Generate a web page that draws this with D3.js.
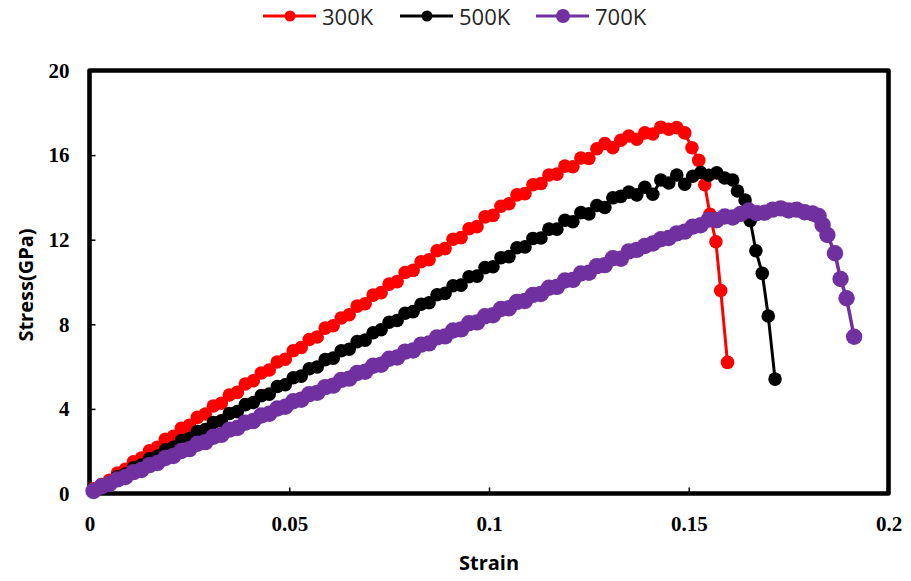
<!DOCTYPE html>
<html>
<head>
<meta charset="utf-8">
<script src="https://cdn.jsdelivr.net/npm/d3@7"></script>
<style>
  body { margin: 0; background: #ffffff; }
  svg { display: block; }
</style>
</head>
<body>
<svg id="chart" width="911" height="581"></svg>
<script>
// Strain sampling shared by the three runs (loading part of each curve)
const strainGrid = [
  0.001, 0.003, 0.005, 0.007, 0.009, 0.011, 0.013, 0.015, 0.017, 0.019,
  0.021, 0.023, 0.025, 0.027, 0.029, 0.031, 0.033, 0.035, 0.037, 0.039,
  0.041, 0.043, 0.045, 0.047, 0.049, 0.051, 0.053, 0.055, 0.057, 0.059,
  0.061, 0.063, 0.065, 0.067, 0.069, 0.071, 0.073, 0.075, 0.077, 0.079,
  0.081, 0.083, 0.085, 0.087, 0.089, 0.091, 0.093, 0.095, 0.097, 0.099,
  0.101, 0.103, 0.105, 0.107, 0.109, 0.111, 0.113, 0.115, 0.117, 0.119,
  0.121, 0.123, 0.125, 0.127, 0.129, 0.131, 0.133, 0.135, 0.137, 0.139,
  0.141, 0.143, 0.145, 0.147, 0.149, 0.151, 0.153, 0.155, 0.157, 0.159,
  0.161, 0.163, 0.165, 0.167, 0.169, 0.171, 0.173, 0.175, 0.177, 0.179,
  0.181
];

// 300K
const stress300 = [
  0.22, 0.42, 0.63, 0.97, 1.15, 1.50, 1.68, 2.02, 2.19, 2.56,
  2.70, 3.08, 3.22, 3.60, 3.76, 4.14, 4.27, 4.66, 4.78, 5.18,
  5.33, 5.70, 5.84, 6.22, 6.35, 6.75, 6.90, 7.28, 7.40, 7.82,
  7.93, 8.30, 8.45, 8.86, 8.97, 9.38, 9.50, 9.90, 10.02, 10.45,
  10.55, 10.96, 11.05, 11.48, 11.58, 12.02, 12.10, 12.52, 12.62, 13.08,
  13.15, 13.58, 13.70, 14.12, 14.18, 14.60, 14.66, 15.06, 15.10, 15.48,
  15.45, 15.86, 15.84, 16.30, 16.55, 16.35, 16.70, 16.90, 16.75, 17.05,
  17.00, 17.32, 17.22, 17.30, 17.05
];
const failStrain300 = [0.1508, 0.1525, 0.154, 0.1553, 0.1568, 0.158, 0.1597];
const failStress300 = [16.35, 15.75, 14.6, 13.2, 11.9, 9.6, 6.2];

// 500K
const stress500 = [
  0.15, 0.35, 0.50, 0.79, 0.92, 1.22, 1.35, 1.64, 1.76, 2.07,
  2.18, 2.50, 2.60, 2.93, 3.02, 3.35, 3.44, 3.78, 3.87, 4.20,
  4.30, 4.63, 4.70, 5.06, 5.14, 5.47, 5.55, 5.90, 5.98, 6.33,
  6.40, 6.75, 6.82, 7.18, 7.25, 7.60, 7.74, 8.10, 8.18, 8.52,
  8.60, 8.95, 9.02, 9.40, 9.46, 9.82, 9.85, 10.25, 10.28, 10.68,
  10.72, 11.15, 11.20, 11.62, 11.66, 12.06, 12.08, 12.50, 12.50, 12.92,
  12.85, 13.28, 13.22, 13.62, 13.52, 13.98, 14.05, 14.25, 14.12, 14.48,
  14.15, 14.82, 14.68, 15.06, 14.62, 15.00, 15.18, 15.05, 15.16, 14.92,
  14.82
];
const failStrain500 = [0.1622, 0.1641, 0.1654, 0.1668, 0.1684, 0.1699, 0.1716];
const failStress500 = [14.3, 13.88, 12.9, 11.48, 10.41, 8.39, 5.41];

// 700K
const stress700 = [
  0.12, 0.33, 0.45, 0.67, 0.78, 1.01, 1.11, 1.34, 1.44, 1.68,
  1.77, 2.01, 2.10, 2.35, 2.43, 2.68, 2.77, 3.02, 3.10, 3.35,
  3.43, 3.69, 3.77, 4.02, 4.10, 4.36, 4.43, 4.70, 4.76, 5.03,
  5.10, 5.37, 5.43, 5.70, 5.76, 6.04, 6.09, 6.37, 6.43, 6.71,
  6.76, 7.04, 7.10, 7.38, 7.43, 7.71, 7.76, 8.05, 8.09, 8.38,
  8.43, 8.72, 8.76, 9.06, 9.10, 9.39, 9.43, 9.73, 9.77, 10.07,
  10.10, 10.40, 10.44, 10.75, 10.80, 11.12, 11.10, 11.45, 11.52, 11.70,
  11.82, 12.02, 12.08, 12.30, 12.38, 12.62, 12.68, 12.95, 12.92, 13.10,
  13.05, 13.22, 13.38, 13.25, 13.28, 13.42, 13.48, 13.38, 13.42, 13.30,
  13.24
];
const failStrain700 = [0.1825, 0.1835, 0.1847, 0.1866, 0.188, 0.1895, 0.1914];
const failStress700 = [13.12, 12.7, 12.22, 11.36, 10.14, 9.23, 7.41];

// Axes
const xTicks = [0, 0.05, 0.1, 0.15, 0.2];
const xTickLabels = ["0", "0.05", "0.1", "0.15", "0.2"];
const yTicks = [0, 4, 8, 12, 16, 20];
const yTickLabels = ["0", "4", "8", "12", "16", "20"];

const seriesNames = ["300K", "500K", "700K"];
const seriesColors = ["#ff0000", "#000000", "#7030a0"];

// ---------------------------------------------------------------
const svg = d3.select("#chart");

const plot = { left: 89.5, right: 888.5, top: 70.5, bottom: 493.5 };
const x = d3.scaleLinear().domain([0, 0.2]).range([plot.left, plot.right]);
const y = d3.scaleLinear().domain([0, 20]).range([plot.bottom, plot.top]);

const serifFont = "'Liberation Serif', 'Times New Roman', serif";
const sansFont = "'Open Sans', 'Noto Sans', sans-serif";

function buildSeries(stress, failStrain, failStress) {
  const pts = stress.map((v, i) => [strainGrid[i], v]);
  return pts.concat(failStrain.map((s, i) => [s, failStress[i]]));
}
const series = [
  buildSeries(stress300, failStrain300, failStress300),
  buildSeries(stress500, failStrain500, failStress500),
  buildSeries(stress700, failStrain700, failStress700)
];
const markerR = [6.8, 6.8, 8.2];
const lineW = [3, 3, 3.5];

// x axis (ticks point into the plot)
const gx = svg.append("g")
  .attr("transform", `translate(0,${plot.bottom})`)
  .call(d3.axisBottom(x).tickValues(xTicks)
    .tickFormat((d, i) => xTickLabels[i])
    .tickSizeInner(-6).tickSizeOuter(0).tickPadding(23));
gx.select(".domain").remove();
gx.selectAll(".tick line").attr("stroke", "#000").attr("stroke-width", 1.5);
gx.selectAll(".tick text")
  .attr("fill", "#000")
  .style("font-family", serifFont).style("font-weight", "bold").style("font-size", "21px");

// y axis
const gy = svg.append("g")
  .attr("transform", `translate(${plot.left},0)`)
  .call(d3.axisLeft(y).tickValues(yTicks)
    .tickFormat((d, i) => yTickLabels[i])
    .tickSizeInner(-6).tickSizeOuter(0).tickPadding(20));
gy.select(".domain").remove();
gy.selectAll(".tick line").attr("stroke", "#000").attr("stroke-width", 1.5);
gy.selectAll(".tick text")
  .attr("fill", "#000")
  .style("font-family", serifFont).style("font-weight", "bold").style("font-size", "21px");

// plot frame
svg.append("rect")
  .attr("x", plot.left).attr("y", plot.top)
  .attr("width", plot.right - plot.left).attr("height", plot.bottom - plot.top)
  .attr("fill", "none").attr("stroke", "#000").attr("stroke-width", 4.6)
  .attr("stroke-linejoin", "round");

// curves
const line = d3.line().x(d => x(d[0])).y(d => y(d[1]));
series.forEach((pts, si) => {
  const g = svg.append("g");
  g.append("path")
    .attr("d", line(pts))
    .attr("fill", "none")
    .attr("stroke", seriesColors[si])
    .attr("stroke-width", lineW[si])
    .attr("stroke-linejoin", "round");
  g.selectAll("circle").data(pts).join("circle")
    .attr("cx", d => x(d[0])).attr("cy", d => y(d[1]))
    .attr("r", markerR[si])
    .attr("fill", seriesColors[si]);
});

// axis titles
svg.append("text")
  .attr("x", 489).attr("y", 562)
  .attr("text-anchor", "middle").attr("dominant-baseline", "central")
  .style("font-family", sansFont).style("font-weight", "bold").style("font-size", "20px")
  .attr("fill", "#000")
  .text("Strain");
svg.append("text")
  .attr("transform", "translate(25,285) rotate(-90)")
  .attr("text-anchor", "middle").attr("dominant-baseline", "central")
  .style("font-family", sansFont).style("font-weight", "bold").style("font-size", "20px")
  .attr("fill", "#000")
  .text("Stress(GPa)");

// legend
const legendX = [263, 400, 536];
const legendR = [5.5, 5.5, 7];
const legend = svg.append("g");
seriesNames.forEach((name, i) => {
  const lx = legendX[i];
  legend.append("line")
    .attr("x1", lx).attr("x2", lx + 53).attr("y1", 16).attr("y2", 16)
    .attr("stroke", seriesColors[i]).attr("stroke-width", 3.2);
  legend.append("circle")
    .attr("cx", lx + 27).attr("cy", 16).attr("r", legendR[i])
    .attr("fill", seriesColors[i]);
  legend.append("text")
    .attr("x", lx + 59).attr("y", 16)
    .attr("dominant-baseline", "central")
    .style("font-family", sansFont).style("font-size", "22px")
    .attr("fill", "#262626")
    .text(name);
});
</script>
</body>
</html>
